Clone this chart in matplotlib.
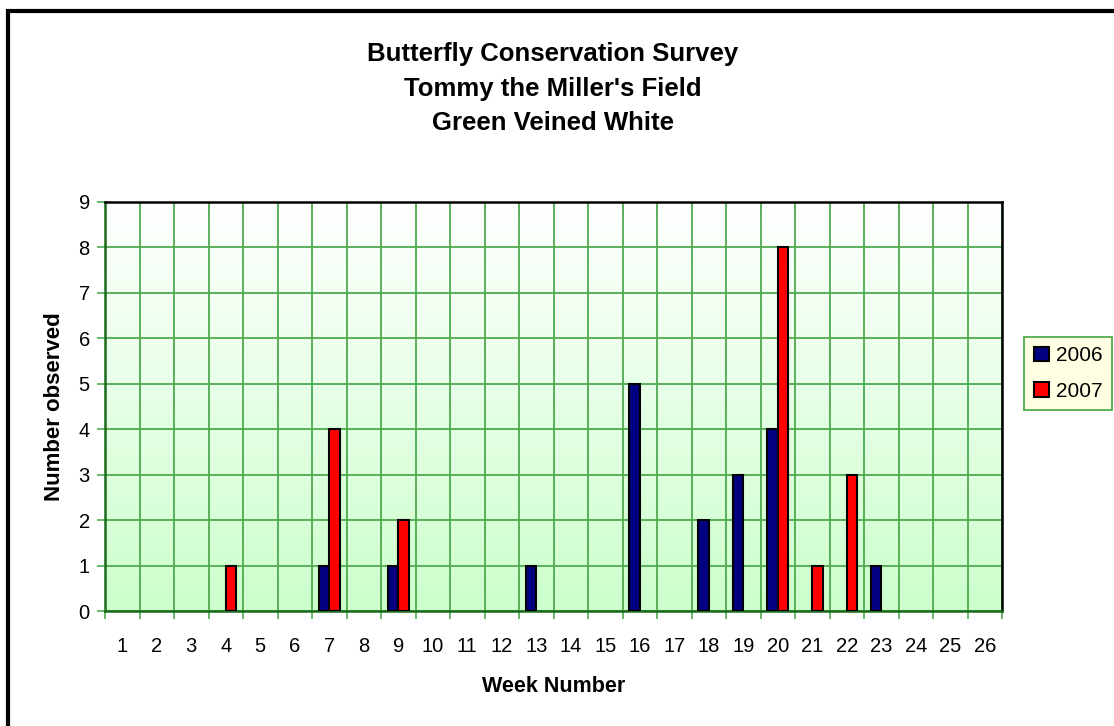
import matplotlib
import numpy as np

matplotlib.use("Agg")
import matplotlib.pyplot as plt
from matplotlib.colors import LinearSegmentedColormap
from matplotlib.patches import Rectangle

# --- Data ---
WEEKS = list(range(1, 27))
COUNTS_2006 = [0, 0, 0, 0, 0, 0, 1, 0, 1, 0, 0, 0, 1, 0, 0, 5, 0, 2, 3, 4, 0, 0, 1, 0, 0, 0]
COUNTS_2007 = [0, 0, 0, 1, 0, 0, 4, 0, 2, 0, 0, 0, 0, 0, 0, 0, 0, 0, 0, 8, 1, 3, 0, 0, 0, 0]
SERIES_LABELS = ["2006", "2007"]
Y_TICKS = list(range(0, 10))

# --- Styling ---
COLOR_2006 = "#000080"
COLOR_2007 = "#FF0000"
GRID_COLOR = "#4FAA4F"
AXIS_GREEN = "#1B6B1B"
LEGEND_FACE = "#FFFFE3"
FONT = "Liberation Sans"


def main():
    plt.rcParams["font.family"] = [FONT, "DejaVu Sans"]
    figure = plt.figure(figsize=(11.14, 7.26), dpi=100)
    axis = figure.add_axes([0.0943, 0.1584, 0.8052, 0.5634])

    x_pos = np.arange(1, len(WEEKS) + 1)
    width = 0.3
    v06 = np.array(COUNTS_2006)
    v07 = np.array(COUNTS_2007)

    # gradient plot background: white at top to pale green at bottom
    cmap = LinearSegmentedColormap.from_list("bg", ["#CCFFCC", "#FFFFFF"])
    grad = np.linspace(0, 1, 256).reshape(-1, 1)
    axis.imshow(grad, cmap=cmap, aspect="auto", origin="lower",
                extent=[0, 1, 0, 1], transform=axis.transAxes, zorder=0)

    m06 = v06 > 0
    m07 = v07 > 0
    axis.bar(x_pos[m06] - width / 2, v06[m06], width, color=COLOR_2006,
             edgecolor="black", linewidth=1.5, zorder=3)
    axis.bar(x_pos[m07] + width / 2, v07[m07], width, color=COLOR_2007,
             edgecolor="black", linewidth=1.5, zorder=3)

    axis.set_xlim(0.5, len(WEEKS) + 0.5)
    axis.set_ylim(0, 9)

    # boundaries carry the ticks and gridlines, centres carry the labels
    axis.set_xticks(np.arange(0.5, len(WEEKS) + 1, 1.0))
    axis.set_xticklabels([])
    axis.set_xticks(x_pos, minor=True)
    axis.set_xticklabels([str(w) for w in WEEKS], minor=True)
    axis.tick_params(axis="x", which="major", length=6, width=1.2,
                     color=GRID_COLOR, direction="out")
    axis.tick_params(axis="x", which="minor", length=0, pad=19, labelsize=14.5)
    axis.set_yticks(Y_TICKS)
    axis.tick_params(axis="y", length=6, width=1.2, color=GRID_COLOR,
                     direction="out", labelsize=14.5, pad=5)

    axis.grid(True, which="major", color=GRID_COLOR, linewidth=1.3, zorder=1)
    axis.set_axisbelow(True)

    for side in ("left", "bottom"):
        axis.spines[side].set_color(AXIS_GREEN)
        axis.spines[side].set_linewidth(1.8)
    for side in ("top", "right"):
        axis.spines[side].set_color("black")
        axis.spines[side].set_linewidth(1.8)

    axis.set_xlabel("Week Number", fontsize=15.5, fontweight="bold", labelpad=14)
    axis.set_ylabel("Number observed", fontsize=16, fontweight="bold", labelpad=10)

    figure.text(0.4965, 0.878,
                "Butterfly Conservation Survey\nTommy the Miller's Field\nGreen Veined White",
                ha="center", va="center", fontsize=18.5, fontweight="bold",
                linespacing=1.55)

    handles = [
        Rectangle((0, 0), 1, 1, facecolor=COLOR_2006, edgecolor="black", linewidth=1.5),
        Rectangle((0, 0), 1, 1, facecolor=COLOR_2007, edgecolor="black", linewidth=1.5),
    ]
    legend = figure.legend(handles, SERIES_LABELS, loc="center",
                           bbox_to_anchor=(1068 / 1114, 1 - 373.5 / 726),
                           fontsize=15, frameon=True, fancybox=False,
                           handlelength=0.75, handleheight=0.7, handletextpad=0.3,
                           labelspacing=0.8, borderpad=0.45, borderaxespad=0)
    frame = legend.get_frame()
    frame.set_facecolor(LEGEND_FACE)
    frame.set_edgecolor(GRID_COLOR)
    frame.set_linewidth(1.3)
    frame.set_alpha(1)

    # outer chart border (runs off right and bottom edges)
    figure.patches.append(Rectangle((7.5 / 1114, -0.1), 1.2, 1.1 - 11.5 / 726,
                                    transform=figure.transFigure, fill=False,
                                    edgecolor="black", linewidth=3.0))

    figure.savefig("out.png", dpi=100)
    plt.close(figure)


if __name__ == "__main__":
    main()
